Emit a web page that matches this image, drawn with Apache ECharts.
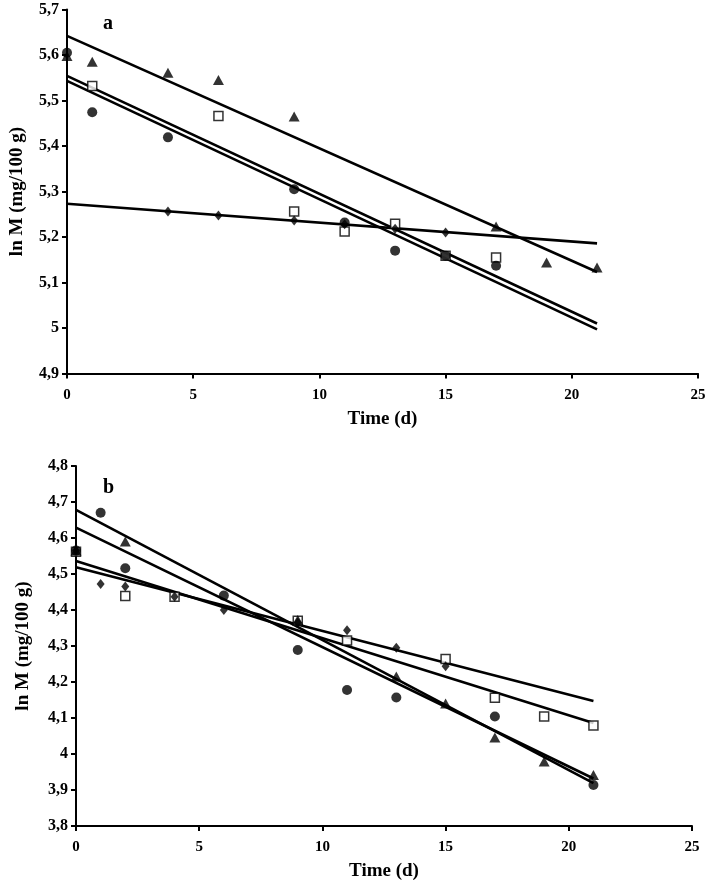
<!DOCTYPE html>
<html><head><meta charset="utf-8">
<script src="https://cdn.jsdelivr.net/npm/echarts@6/dist/echarts.min.js"></script>
<style>html,body{margin:0;padding:0;background:#fff}#c{width:709px;height:882px}</style>
</head><body><div id="c"></div>
<script>
// ---------- Panel a ----------
const aTriT = [0, 1, 4, 6, 9, 17, 19, 21];
const aTriV = [5.598, 5.585, 5.561, 5.545, 5.465, 5.223, 5.144, 5.133];
const aSqT = [1, 6, 9, 11, 13, 15, 17];
const aSqV = [5.532, 5.466, 5.256, 5.212, 5.229, 5.159, 5.155];
const aCiT = [0, 1, 4, 9, 11, 13, 15, 17];
const aCiV = [5.605, 5.474, 5.419, 5.305, 5.232, 5.170, 5.159, 5.137];
const aDiT = [4, 6, 9, 11, 13, 15];
const aDiV = [5.256, 5.247, 5.236, 5.228, 5.218, 5.210];
// trend lines (value at t=0 and t=21)
const aFitT = [0, 21];
const aFitTri = [5.642, 5.123];
const aFitSq = [5.554, 5.010];
const aFitCi = [5.543, 4.997];
const aFitDi = [5.273, 5.186];

// ---------- Panel b ----------
const bTriT = [0, 2, 9, 13, 15, 17, 19, 21];
const bTriV = [4.565, 4.590, 4.372, 4.215, 4.140, 4.046, 3.979, 3.942];
const bSqT = [0, 2, 4, 9, 11, 15, 17, 19, 21];
const bSqV = [4.562, 4.439, 4.437, 4.370, 4.315, 4.264, 4.156, 4.104, 4.079];
const bCiT = [0, 1, 2, 6, 9, 11, 13, 17, 21];
const bCiV = [4.565, 4.670, 4.516, 4.440, 4.289, 4.178, 4.157, 4.104, 3.914];
const bDiT = [0, 1, 2, 4, 6, 9, 11, 13, 15];
const bDiV = [4.565, 4.472, 4.465, 4.437, 4.400, 4.365, 4.344, 4.295, 4.244];
const bFitT = [0, 21];
const bFitCi = [4.678, 3.919];
const bFitTri = [4.629, 3.932];
const bFitSq = [4.536, 4.086];
const bFitDi = [4.519, 4.147];

const xTicks = [0, 5, 10, 15, 20, 25];

const zip = (t, v) => t.map((x, i) => [x, v[i]]);
const FONT = 'Liberation Serif';
const fmt = v => String(Math.round(v * 10) / 10).replace('.', ',');

function fitLine(idx, t, v) {
  return { type: 'line', xAxisIndex: idx, yAxisIndex: idx, data: zip(t, v),
    symbol: 'none', lineStyle: { color: '#000', width: 2.6 }, z: 2, silent: true };
}
function scat(idx, t, v, kind) {
  const base = { type: 'scatter', xAxisIndex: idx, yAxisIndex: idx, data: zip(t, v), z: 4, silent: true };
  if (kind === 'tri') return Object.assign(base, { symbol: 'triangle', symbolSize: [11, 10], itemStyle: { color: '#000' } });
  if (kind === 'ci') return Object.assign(base, { symbol: 'circle', symbolSize: 10, itemStyle: { color: '#000' } });
  if (kind === 'di') return Object.assign(base, { symbol: 'diamond', symbolSize: [8, 10], itemStyle: { color: '#000' } });
  return Object.assign(base, { symbol: 'rect', symbolSize: 9, z: 3,
    itemStyle: { color: '#fff', borderColor: '#000', borderWidth: 1.5 } });
}

function xAx(idx) {
  return { type: 'value', gridIndex: idx, min: 0, max: 25, interval: 5,
    name: 'Time (d)', nameLocation: 'middle', nameGap: 36,
    nameTextStyle: { fontFamily: FONT, fontWeight: 'bold', fontSize: 19, color: '#000' },
    axisLine: { lineStyle: { color: '#000', width: 2 } },
    axisTick: { show: true, length: 5, lineStyle: { color: '#000', width: 2 } },
    axisLabel: { fontFamily: FONT, fontWeight: 'bold', fontSize: 15, color: '#000', margin: 14,
      formatter: v => xTicks.includes(v) ? String(v) : '' },
    splitLine: { show: false } };
}
function yAx(idx, min, max, gap) {
  return { type: 'value', gridIndex: idx, min: min, max: max, interval: 0.1,
    name: 'ln M (mg/100 g)', nameLocation: 'middle', nameGap: gap,
    nameTextStyle: { fontFamily: FONT, fontWeight: 'bold', fontSize: 19, color: '#000' },
    axisLine: { show: true, lineStyle: { color: '#000', width: 2 } },
    axisTick: { show: true, length: 5, lineStyle: { color: '#000', width: 2 } },
    axisLabel: { fontFamily: FONT, fontWeight: 'bold', fontSize: 16, color: '#000', margin: 8, formatter: fmt },
    splitLine: { show: false } };
}

const chart = echarts.init(document.getElementById('c'), null, { renderer: 'canvas' });
chart.setOption({
  backgroundColor: '#fff',
  animation: false,
  title: [
    { text: 'a', left: 98, top: 9, textStyle: { fontFamily: FONT, fontWeight: 'bold', fontSize: 20, color: '#000' } },
    { text: 'b', left: 98, top: 473, textStyle: { fontFamily: FONT, fontWeight: 'bold', fontSize: 20, color: '#000' } }
  ],
  grid: [
    { left: 64, top: 9.5, width: 634, height: 364 },
    { left: 76, top: 466, width: 616, height: 360 }
  ],
  xAxis: [xAx(0), xAx(1)],
  yAxis: [yAx(0, 4.9, 5.7, 40), yAx(1, 3.8, 4.8, 43)],
  series: [
    fitLine(0, aFitT, aFitTri), fitLine(0, aFitT, aFitSq), fitLine(0, aFitT, aFitCi), fitLine(0, aFitT, aFitDi),
    scat(0, aSqT, aSqV, 'sq'), scat(0, aTriT, aTriV, 'tri'), scat(0, aCiT, aCiV, 'ci'), scat(0, aDiT, aDiV, 'di'),
    fitLine(1, bFitT, bFitCi), fitLine(1, bFitT, bFitTri), fitLine(1, bFitT, bFitSq), fitLine(1, bFitT, bFitDi),
    scat(1, bSqT, bSqV, 'sq'), scat(1, bTriT, bTriV, 'tri'), scat(1, bCiT, bCiV, 'ci'), scat(1, bDiT, bDiV, 'di')
  ]
});
</script></body></html>
